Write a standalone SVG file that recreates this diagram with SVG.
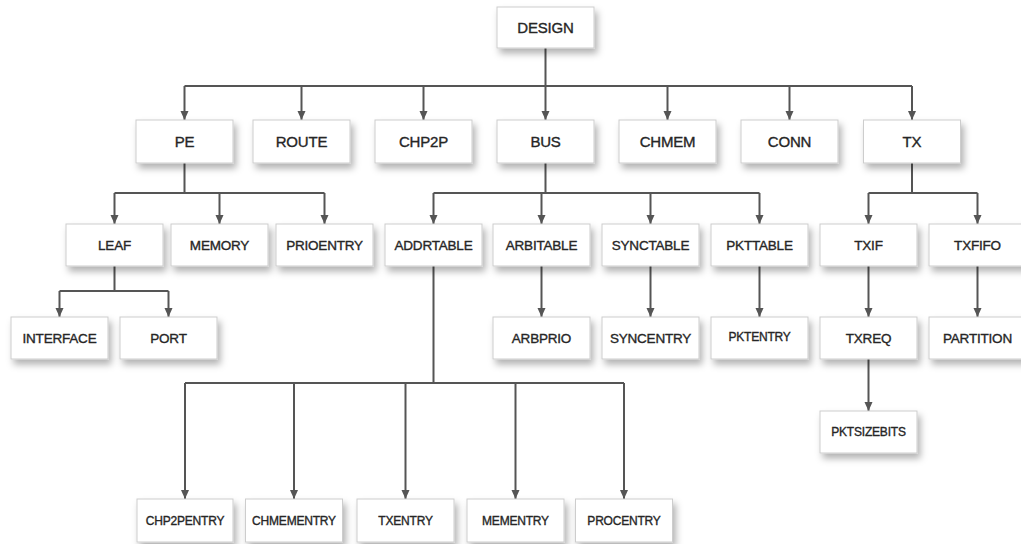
<svg xmlns="http://www.w3.org/2000/svg" width="1021" height="544" viewBox="0 0 1021 544">
<style>
.box{fill:#fff;stroke:#cdcdcd;stroke-width:1;filter:url(#sh)}
.t{font-family:"Liberation Sans",Arial,sans-serif;fill:#262626;stroke:#262626;stroke-width:0.35;text-anchor:middle;letter-spacing:-0.2px}
.t15{font-size:15px}
.t13{font-size:13.5px}
.t12{font-size:12px}
.c{fill:none;stroke:#555;stroke-width:2}
.a{fill:none;stroke:#555;stroke-width:2;marker-end:url(#ah)}
</style>
<defs>
<filter id="sh" x="-20%" y="-20%" width="150%" height="170%">
<feDropShadow dx="3" dy="5" stdDeviation="3.5" flood-color="#000" flood-opacity="0.3"/>
</filter>
<marker id="ah" markerUnits="userSpaceOnUse" markerWidth="9" markerHeight="9" refX="9" refY="4.5" orient="auto" viewBox="0 0 9 9">
<path d="M0,0.5 L9,4.5 L0,8.5 Z" fill="#555"/>
</marker>
</defs>
<rect width="1021" height="544" fill="#fff"/>
<g id="connectors">
<path class="c" d="M545.5,48 V86 M184.5,86 H912"/>
<path class="a" d="M184.5,86 V120"/>
<path class="a" d="M301.5,86 V120"/>
<path class="a" d="M423.5,86 V120"/>
<path class="a" d="M545.5,86 V120"/>
<path class="a" d="M667.5,86 V120"/>
<path class="a" d="M789.5,86 V120"/>
<path class="a" d="M912,86 V120"/>
<path class="c" d="M184.5,163 V193 M114.5,193 H324.5"/>
<path class="a" d="M114.5,193 V224"/>
<path class="a" d="M219.5,193 V224"/>
<path class="a" d="M324.5,193 V224"/>
<path class="c" d="M545.5,163 V193 M433.5,193 H759.5"/>
<path class="a" d="M433.5,193 V224"/>
<path class="a" d="M541.5,193 V224"/>
<path class="a" d="M650.5,193 V224"/>
<path class="a" d="M759.5,193 V224"/>
<path class="c" d="M912,163 V193 M868.5,193 H977.5"/>
<path class="a" d="M868.5,193 V224"/>
<path class="a" d="M977.5,193 V224"/>
<path class="c" d="M114.5,266 V291 M59.5,291 H168.5"/>
<path class="a" d="M59.5,291 V317"/>
<path class="a" d="M168.5,291 V317"/>
<path class="a" d="M541.5,266 V317"/>
<path class="a" d="M650.5,266 V317"/>
<path class="a" d="M759.5,266 V317"/>
<path class="a" d="M868.5,266 V317"/>
<path class="a" d="M977.5,266 V317"/>
<path class="a" d="M868.5,359 V411"/>
<path class="c" d="M433.5,266 V383 M185,383 H624"/>
<path class="a" d="M185,383 V499"/>
<path class="a" d="M294,383 V499"/>
<path class="a" d="M405.5,383 V499"/>
<path class="a" d="M515.5,383 V499"/>
<path class="a" d="M624,383 V499"/>
</g>
<g id="DESIGN"><rect class="box" x="497" y="7" width="97" height="41"/><text class="t t15" x="545.5" y="33">DESIGN</text></g>
<g id="PE"><rect class="box" x="136" y="120" width="97" height="43"/><text class="t t15" x="184.5" y="147">PE</text></g>
<g id="ROUTE"><rect class="box" x="253" y="120" width="97" height="43"/><text class="t t15" x="301.5" y="147">ROUTE</text></g>
<g id="CHP2P"><rect class="box" x="375" y="120" width="97" height="43"/><text class="t t15" x="423.5" y="147">CHP2P</text></g>
<g id="BUS"><rect class="box" x="497" y="120" width="97" height="43"/><text class="t t15" x="545.5" y="147">BUS</text></g>
<g id="CHMEM"><rect class="box" x="619" y="120" width="97" height="43"/><text class="t t15" x="667.5" y="147">CHMEM</text></g>
<g id="CONN"><rect class="box" x="741" y="120" width="97" height="43"/><text class="t t15" x="789.5" y="147">CONN</text></g>
<g id="TX"><rect class="box" x="863.5" y="120" width="97" height="43"/><text class="t t15" x="912" y="147">TX</text></g>
<g id="LEAF"><rect class="box" x="66" y="224" width="97" height="42"/><text class="t t13" x="114.5" y="250">LEAF</text></g>
<g id="MEMORY"><rect class="box" x="171" y="224" width="97" height="42"/><text class="t t13" x="219.5" y="250">MEMORY</text></g>
<g id="PRIOENTRY"><rect class="box" x="276" y="224" width="97" height="42"/><text class="t t13" x="324.5" y="250">PRIOENTRY</text></g>
<g id="ADDRTABLE"><rect class="box" x="385" y="224" width="97" height="42"/><text class="t t13" x="433.5" y="250">ADDRTABLE</text></g>
<g id="ARBITABLE"><rect class="box" x="493" y="224" width="97" height="42"/><text class="t t13" x="541.5" y="250">ARBITABLE</text></g>
<g id="SYNCTABLE"><rect class="box" x="602" y="224" width="97" height="42"/><text class="t t13" x="650.5" y="250">SYNCTABLE</text></g>
<g id="PKTTABLE"><rect class="box" x="711" y="224" width="97" height="42"/><text class="t t13" x="759.5" y="250">PKTTABLE</text></g>
<g id="TXIF"><rect class="box" x="820" y="224" width="97" height="42"/><text class="t t13" x="868.5" y="250">TXIF</text></g>
<g id="TXFIFO"><rect class="box" x="929" y="224" width="97" height="42"/><text class="t t13" x="977.5" y="250">TXFIFO</text></g>
<g id="INTERFACE"><rect class="box" x="11" y="317" width="97" height="42"/><text class="t t13" x="59.5" y="343">INTERFACE</text></g>
<g id="PORT"><rect class="box" x="120" y="317" width="97" height="42"/><text class="t t13" x="168.5" y="343">PORT</text></g>
<g id="ARBPRIO"><rect class="box" x="493" y="317" width="97" height="42"/><text class="t t13" x="541.5" y="343">ARBPRIO</text></g>
<g id="SYNCENTRY"><rect class="box" x="602" y="317" width="97" height="42"/><text class="t t13" x="650.5" y="343">SYNCENTRY</text></g>
<g id="PKTENTRY"><rect class="box" x="711" y="317" width="97" height="42"/><text class="t t12" x="759.5" y="341">PKTENTRY</text></g>
<g id="TXREQ"><rect class="box" x="820" y="317" width="97" height="42"/><text class="t t13" x="868.5" y="343">TXREQ</text></g>
<g id="PARTITION"><rect class="box" x="929" y="317" width="97" height="42"/><text class="t t13" x="977.5" y="343">PARTITION</text></g>
<g id="PKTSIZEBITS"><rect class="box" x="820" y="411" width="97" height="42"/><text class="t t12" x="868.5" y="436">PKTSIZEBITS</text></g>
<g id="CHP2PENTRY"><rect class="box" x="137" y="499" width="96" height="43"/><text class="t t12" x="185" y="525">CHP2PENTRY</text></g>
<g id="CHMEMENTRY"><rect class="box" x="245.5" y="499" width="97" height="43"/><text class="t t12" x="294" y="525">CHMEMENTRY</text></g>
<g id="TXENTRY"><rect class="box" x="357" y="499" width="97" height="43"/><text class="t t12" x="405.5" y="525">TXENTRY</text></g>
<g id="MEMENTRY"><rect class="box" x="467" y="499" width="97" height="43"/><text class="t t12" x="515.5" y="525">MEMENTRY</text></g>
<g id="PROCENTRY"><rect class="box" x="575.5" y="499" width="97" height="43"/><text class="t t12" x="624" y="525">PROCENTRY</text></g>
</svg>
